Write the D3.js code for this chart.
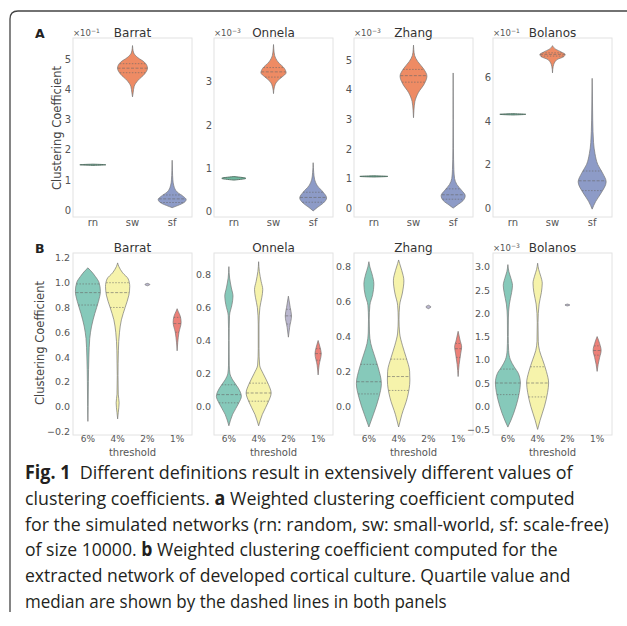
<!DOCTYPE html>
<html><head><meta charset="utf-8">
<script src="https://cdn.jsdelivr.net/npm/d3@7"></script>
<style>body{margin:0;background:#fff}svg{display:block}</style>
</head><body><svg id="c" width="627" height="626"></svg>
<script>
// ---------- data ----------
const methods = ["Barrat", "Onnela", "Zhang", "Bolanos"];
const topCats = ["rn", "sw", "sf"];
const botCats = ["6%", "4%", "2%", "1%"];
const topExponents = ["\u22121", "\u22123", "\u22123", "\u22121"];
const botExponents = [null, null, null, "\u22123"];
const topTicks = [[0,1,2,3,4,5],[0,1,2,3],[0,1,2,3,4,5],[0,2,4,6]];
const botTicks = [[-0.2,0,0.2,0.4,0.6,0.8,1.0,1.2],[0,0.2,0.4,0.6,0.8],[0,0.2,0.4,0.6,0.8],[-0.5,0,0.5,1.0,1.5,2.0,2.5,3.0]];
const topLimits = [[-0.23,5.7],[-0.12,4.0],[-0.3,5.74],[-0.41,7.8]];
const botLimits = [[-0.23,1.24],[-0.176,0.933],[-0.166,0.88],[-0.62,3.3]];

// violin profiles: [value, relative half-width]
const topBarrat = [
  [[1.48,0],[1.5,0.93],[1.52,0]],
  [[3.75,0],[3.9,0.05],[4.1,0.12],[4.3,0.4],[4.5,0.85],[4.7,1.07],[4.9,0.85],[5.05,0.38],[5.2,0.09],[5.35,0.02],[5.45,0]],
  [[0.08,0],[0.15,0.4],[0.25,0.85],[0.35,1.0],[0.45,0.8],[0.6,0.35],[0.8,0.12],[1.0,0.05],[1.3,0.02],[1.65,0]]
];
const topOnnela = [
  [[0.73,0],[0.77,0.86],[0.81,0]],
  [[2.72,0],[2.85,0.05],[3.0,0.25],[3.1,0.6],[3.2,0.9],[3.3,0.78],[3.45,0.32],[3.6,0.08],[3.75,0.02],[3.85,0]],
  [[0.02,0],[0.1,0.3],[0.2,0.72],[0.32,0.96],[0.45,0.72],[0.6,0.3],[0.75,0.1],[0.9,0.04],[1.13,0]]
];
const topZhang = [
  [[1.05,0],[1.07,1.0],[1.09,0]],
  [[3.05,0],[3.3,0.03],[3.6,0.1],[3.9,0.35],[4.2,0.78],[4.45,0.96],[4.7,0.72],[4.95,0.3],[5.15,0.08],[5.35,0.02],[5.5,0]],
  [[0.0,0],[0.1,0.28],[0.25,0.7],[0.42,0.86],[0.6,0.6],[0.8,0.26],[1.0,0.1],[1.3,0.05],[2.0,0.02],[3.0,0.01],[4.56,0]]
];
const topBolanos = [
  [[4.27,0],[4.3,0.93],[4.33,0]],
  [[6.2,0],[6.5,0.05],[6.8,0.3],[6.95,0.82],[7.05,0.9],[7.15,0.65],[7.3,0.2],[7.45,0]],
  [[-0.05,0],[0.3,0.25],[0.7,0.65],[1.2,1.0],[1.6,0.75],[2.0,0.4],[2.5,0.2],[3.0,0.1],[4.0,0.04],[5.0,0.02],[5.95,0]]
];
const botBarrat = [
  [[-0.12,0],[0.0,0.02],[0.2,0.04],[0.4,0.08],[0.55,0.15],[0.65,0.3],[0.75,0.55],[0.85,0.85],[0.93,1.0],[1.0,0.9],[1.05,0.6],[1.1,0.2],[1.12,0]],
  [[-0.1,0],[-0.05,0.05],[0.03,0.12],[0.1,0.05],[0.25,0.03],[0.45,0.06],[0.6,0.15],[0.7,0.3],[0.8,0.6],[0.9,0.9],[0.97,0.97],[1.03,0.85],[1.08,0.4],[1.13,0.1],[1.16,0]],
  [[0.975,0],[0.985,0.2],[0.995,0]],
  [[0.45,0],[0.52,0.05],[0.6,0.15],[0.68,0.32],[0.73,0.25],[0.77,0.08],[0.79,0]]
];
const botOnnela = [
  [[-0.12,0],[-0.05,0.3],[0.02,0.8],[0.06,1.0],[0.11,0.75],[0.16,0.3],[0.2,0.08],[0.25,0.03],[0.4,0.02],[0.55,0.05],[0.62,0.25],[0.67,0.33],[0.72,0.2],[0.78,0.06],[0.85,0]],
  [[-0.12,0],[-0.05,0.3],[0.03,0.8],[0.08,1.0],[0.13,0.8],[0.2,0.35],[0.25,0.08],[0.35,0.03],[0.5,0.03],[0.6,0.1],[0.66,0.25],[0.71,0.33],[0.76,0.2],[0.82,0.06],[0.88,0]],
  [[0.42,0],[0.48,0.1],[0.55,0.25],[0.6,0.15],[0.67,0]],
  [[0.19,0],[0.25,0.08],[0.32,0.25],[0.36,0.15],[0.4,0]]
];
const botZhang = [
  [[-0.12,0],[-0.05,0.35],[0.05,0.8],[0.13,1.0],[0.22,0.75],[0.3,0.4],[0.36,0.15],[0.42,0.05],[0.5,0.03],[0.58,0.08],[0.64,0.3],[0.7,0.4],[0.76,0.25],[0.8,0.08],[0.83,0]],
  [[-0.12,0],[-0.05,0.25],[0.05,0.7],[0.15,0.9],[0.2,0.88],[0.28,0.6],[0.35,0.3],[0.42,0.08],[0.5,0.03],[0.58,0.08],[0.65,0.3],[0.72,0.42],[0.78,0.25],[0.82,0.08],[0.84,0]],
  [[0.56,0],[0.57,0.2],[0.58,0]],
  [[0.17,0],[0.24,0.08],[0.3,0.2],[0.34,0.28],[0.38,0.15],[0.43,0]]
];
const botBolanos = [
  [[-0.45,0],[-0.3,0.25],[0.0,0.65],[0.3,0.92],[0.5,1.0],[0.7,0.85],[0.85,0.5],[1.0,0.2],[1.2,0.06],[1.5,0.03],[1.9,0.04],[2.2,0.12],[2.45,0.3],[2.6,0.37],[2.75,0.25],[2.9,0.08],[3.05,0]],
  [[-0.5,0],[-0.3,0.2],[0.0,0.55],[0.3,0.8],[0.5,0.88],[0.75,0.7],[1.0,0.4],[1.2,0.15],[1.4,0.05],[1.8,0.03],[2.2,0.12],[2.45,0.3],[2.65,0.37],[2.8,0.25],[2.95,0.08],[3.08,0]],
  [[2.16,0],[2.18,0.2],[2.2,0]],
  [[0.75,0],[0.9,0.08],[1.05,0.2],[1.2,0.32],[1.35,0.2],[1.5,0]]
];
// quartiles [q1, median, q3]
const topQuart = [
  [null,[4.55,4.7,4.85],[0.25,0.37,0.5]],
  [null,[3.1,3.22,3.32],[0.22,0.33,0.45]],
  [null,[4.25,4.47,4.68],[0.3,0.45,0.65]],
  [null,[6.97,7.05,7.12],[0.8,1.25,1.7]]
];
const botQuart = [
  [[0.82,0.92,0.99],[0.8,0.92,1.0],null,[0.6,0.67,0.72]],
  [[0.02,0.07,0.13],[0.03,0.08,0.14],[0.5,0.55,0.59],[0.28,0.32,0.35]],
  [[0.07,0.14,0.24],[0.09,0.17,0.27],null,[0.28,0.33,0.36]],
  [[0.25,0.5,0.8],[0.2,0.5,0.85],null,[1.1,1.2,1.3]]
];
const topColors = ["#6fb89e", "#ee8b64", "#8d9bc7"];
const botColors = ["#86c9ba", "#f6f3ab", "#bab7cf", "#ec8078"];

const captionLines = [
  [["Fig. 1", true], ["  Different definitions result in extensively different values of", false]],
  [["clustering coefficients. ", false], ["a", true], [" Weighted clustering coefficient computed", false]],
  [["for the simulated networks (rn: random, sw: small-world, sf: scale-free)", false]],
  [["of size 10000. ", false], ["b", true], [" Weighted clustering coefficient computed for the", false]],
  [["extracted network of developed cortical culture. Quartile value and", false]],
  [["median are shown by the dashed lines in both panels", false]]
];
const captionWidths = [548, 550, 584, 533, 546, 422];

// ---------- layout ----------
const svg = d3.select("#c");
const panelX = [[73,192],[214,333],[354,473],[493,612]];
const rowsY = [[38,217],[253,435]];
const font = "DejaVu Sans, sans-serif";

svg.append("path").attr("d", "M10,612 L10,19 Q10,11 18,11 L627,11")
  .attr("fill", "none").attr("stroke", "#444").attr("stroke-width", 1.3);

const topData = [topBarrat, topOnnela, topZhang, topBolanos];
const botData = [botBarrat, botOnnela, botZhang, botBolanos];

function interpW(profile, v) {
  for (let i = 0; i < profile.length - 1; i++) {
    const a = profile[i], b = profile[i+1];
    if (v >= a[0] && v <= b[0]) return a[1] + (b[1]-a[1]) * (v - a[0]) / (b[0]-a[0]);
  }
  return 0;
}

function drawRow(r) {
  const cats = r === 0 ? topCats : botCats;
  const data = r === 0 ? topData : botData;
  const quarts = r === 0 ? topQuart : botQuart;
  const colors = r === 0 ? topColors : botColors;
  const ticks = r === 0 ? topTicks : botTicks;
  const lims = r === 0 ? topLimits : botLimits;
  const exps = r === 0 ? topExponents : botExponents;
  const [y0, y1] = rowsY[r];
  const halfMax = r === 0 ? 14 : 12.5;
  const w = d3.scaleLinear().domain([0, 1]).range([0, halfMax]);

  methods.forEach((m, p) => {
    const [xl, xr] = panelX[p];
    const g = svg.append("g");
    const x = d3.scaleBand().domain(cats).range([xl, xr]).paddingInner(0).paddingOuter(0);
    const y = d3.scaleLinear().domain(lims[p]).range([y1, y0]);
    g.append("rect").attr("x", xl).attr("y", y0).attr("width", xr - xl).attr("height", y1 - y0)
      .attr("fill", "none").attr("stroke", "#e2e2e2").attr("stroke-width", 1);

    const ya = g.append("g").attr("transform", `translate(${xl},0)`)
      .call(d3.axisLeft(y).tickValues(ticks[p]).tickSize(0).tickPadding(r === 0 ? 2 : 3));
    ya.select(".domain").remove();
    ya.selectAll("text").attr("font-family", font).attr("font-size", r === 0 ? 10 : 9.5).attr("fill", "#555")
      .text(d => (r === 0 ? d3.format("d")(d) : d3.format(".1f")(d)).replace("-", "\u2212"));

    const xa = g.append("g").attr("transform", `translate(0,${y1})`)
      .call(d3.axisBottom(x).tickSize(0).tickPadding(r === 0 ? 2 : 1));
    xa.select(".domain").remove();
    xa.selectAll("text").attr("font-family", font).attr("font-size", r === 0 ? 10 : 9).attr("fill", "#555");
    if (r === 1) {
      g.append("text").attr("x", (xl + xr) / 2).attr("y", y1 + 21).attr("text-anchor", "middle")
        .attr("font-family", font).attr("font-size", 10).attr("fill", "#555").text("threshold");
    }

    cats.forEach((c, i) => {
      const cx = x(c) + x.bandwidth() / 2;
      const prof = data[p][i];
      const thin = prof.length <= 3;
      const area = d3.area().y(d => y(d[0])).x0(d => cx - w(d[1])).x1(d => cx + w(d[1]))
        .curve(d3.curveMonotoneY);
      g.append("path").attr("d", area(prof)).attr("fill", colors[i])
        .attr("stroke", thin && r === 0 ? "#4f6b5f" : "#777").attr("stroke-width", thin && r === 0 ? 0.9 : 0.7);
      const q = quarts[p][i];
      if (q) q.forEach((v, k) => {
        const hw = w(interpW(prof, v));
        g.append("line").attr("x1", cx - hw).attr("x2", cx + hw).attr("y1", y(v)).attr("y2", y(v))
          .attr("stroke", "#666").attr("stroke-width", 0.6)
          .attr("stroke-dasharray", k === 1 ? "3,1.5" : "1.5,1.5");
      });
    });

    g.append("text").attr("x", (xl + xr) / 2).attr("y", y0 - 1).attr("text-anchor", "middle")
      .attr("font-family", font).attr("font-size", 12).attr("fill", "#333").text(m);
    if (exps[p]) {
      const t = g.append("text").attr("x", xl).attr("y", y0 - 2)
        .attr("font-family", font).attr("font-size", 8.5).attr("fill", "#555");
      t.append("tspan").text("\u00d710");
      t.append("tspan").attr("dy", -3).attr("font-size", 6).text(exps[p]);
    }
  });

  const lx = r === 0 ? 61 : 44;
  const ly = r === 0 ? 128 : 343;
  svg.append("text").attr("transform", `translate(${lx},${ly}) rotate(-90)`)
    .attr("text-anchor", "middle").attr("font-family", font).attr("font-size", 11.5)
    .attr("fill", "#444").text("Clustering Coefficient");
  svg.append("text").attr("x", 35).attr("y", r === 0 ? 38 : 253)
    .attr("font-family", font).attr("font-weight", "bold").attr("font-size", 12.5)
    .attr("fill", "#222").text(r === 0 ? "A" : "B");
}
drawRow(0);
drawRow(1);

const capG = svg.append("g");
captionLines.forEach((line, i) => {
  const t = capG.append("text").attr("x", 0).attr("y", 0)
    .attr("font-family", "Open Sans, sans-serif").attr("font-size", 19).attr("fill", "#231f20")
    .style("white-space", "pre");
  line.forEach(([s, b]) => t.append("tspan").attr("font-weight", b ? "bold" : "normal").text(s));
  const len = t.node().getComputedTextLength();
  const sx = captionWidths[i] / len;
  t.attr("transform", `translate(25,${479 + i * 25.8}) scale(${sx},1)`);
});
</script></body></html>
